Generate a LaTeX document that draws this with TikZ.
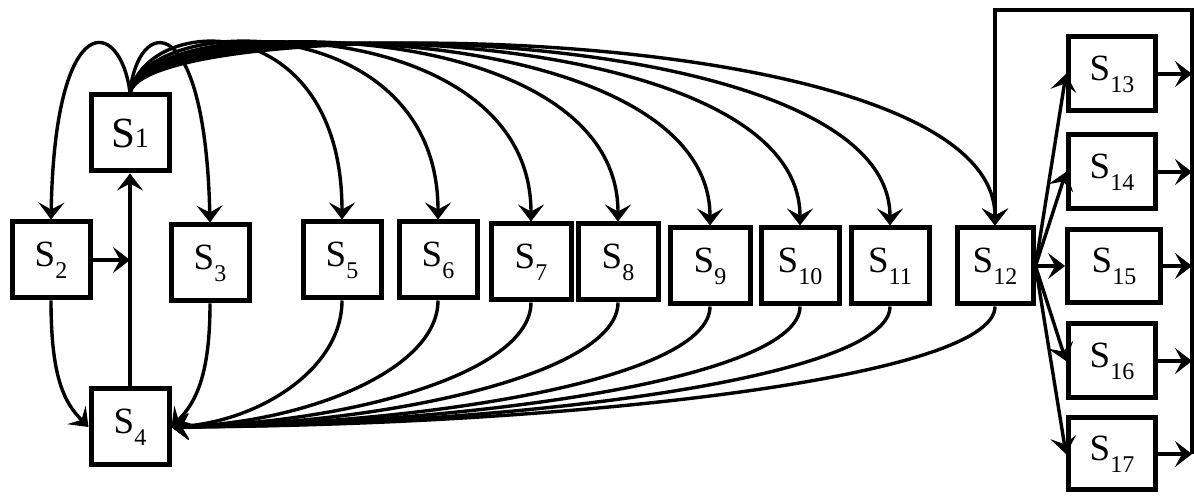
\documentclass[tikz,border=0pt]{standalone}
\usepackage{fontspec}
\setmainfont{Liberation Serif}
\usetikzlibrary{arrows.meta,calc}
\newcommand{\Sn}[1]{\fontsize{37}{37}\selectfont S\raisebox{-12pt}{\fontsize{24}{24}\selectfont #1}}
\begin{document}
\begin{tikzpicture}[x=1pt,y=1pt,
  box/.style={draw,line width=5pt,inner sep=0pt,minimum width=78pt,minimum height=76pt,fill=white},
  wide/.style={box,minimum width=87pt,minimum height=74pt},
  conn/.style={line width=3.4pt,-{Stealth[length=17pt,width=26pt,inset=7pt]}},
  plain/.style={line width=3.4pt}]
\useasboundingbox (0,0) rectangle (1194,497);
% nodes
\node[box] (S1) at (130,364) {\fontsize{43}{43}\selectfont S{\fontsize{28}{28}\selectfont 1}};
\node[box] (S2) at (51,237) {\Sn{2}};
\node[box] (S3) at (210,234) {\Sn{3}};
\node[box] (S4) at (130,70) {\Sn{4}};
\node[box] (S5) at (342,237) {\Sn{5}};
\node[box] (S6) at (438,237) {\Sn{6}};
\node[box,minimum width=80pt] (S7) at (531,235) {\Sn{7}};
\node[box,minimum width=80pt] (S8) at (618,235) {\Sn{8}};
\node[box,minimum width=80pt] (S9) at (710,231) {\Sn{9}};
\node[box] (S10) at (800,231) {\Sn{10}};
\node[box] (S11) at (890,231) {\Sn{11}};
\node[box,minimum width=76pt] (S12) at (995,231) {\Sn{12}};
\node[wide] (S13) at (1112,423) {\Sn{13}};
\node[wide] (S14) at (1112,325) {\Sn{14}};
\node[wide,minimum width=93pt,minimum height=73pt] (S15) at (1114,231) {\Sn{15}};
\node[wide] (S16) at (1112,136) {\Sn{16}};
\node[wide,minimum height=72pt] (S17) at (1112,43) {\Sn{17}};
\coordinate (tr) at (1192,487);
\coordinate (tl) at (995,487);
% S1 loops
\draw[conn] (S1.north) .. controls +(-10,76) and +(4,213) .. (S2.north);
\draw[conn] (S1.north) .. controls +(8,76) and +(-5,216) .. (S3.north);
% S1 fan
\foreach \t in {S5,S6,S7,S8,S9,S10,S11,S12}{
  \draw[conn] (S1.north) .. controls +(20,81) and +(0,210) .. (\t.north);
}
% S2 / S4 / S1
\draw[conn] (S2.south) .. controls +(0,-75) and +(-25,25) .. (S4.west);
\coordinate (m) at (S2.east -| S4.north);
\draw[conn] (S2.east) -- (m);
\draw[conn] (S4.north) -- (S1.south);
% to S4 east
\draw[conn] (S3.south) .. controls +(0,-70) and +(25,25) .. (S4.east);
\draw[conn] (S5.south) .. controls +(0,-70) and +(85,5) .. (S4.east);
\draw[conn] (S6.south) .. controls +(0,-70) and +(133,4) .. (S4.east);
\draw[conn] (S7.south) .. controls +(0,-70) and +(180,4) .. (S4.east);
\draw[conn] (S8.south) .. controls +(0,-70) and +(223,3) .. (S4.east);
\draw[conn] (S9.south) .. controls +(0,-70) and +(269,3) .. (S4.east);
\draw[conn] (S10.south) .. controls +(0,-70) and +(314,3) .. (S4.east);
\draw[conn] (S11.south) .. controls +(0,-70) and +(359,2) .. (S4.east);
\draw[conn] (S12.south) .. controls +(0,-70) and +(411,2) .. (S4.east);
% S12 fan out
\foreach \t in {S13,S14,S15,S16,S17}{
  \draw[conn] (S12.east) -- (\t.west);
  \draw[conn] (\t.east) -- (\t.east -| tr);
}
% feedback
\draw[conn] (S17.east -| tr) -- (tr) -- (tl) -- (S12.north);
\end{tikzpicture}
\end{document}
